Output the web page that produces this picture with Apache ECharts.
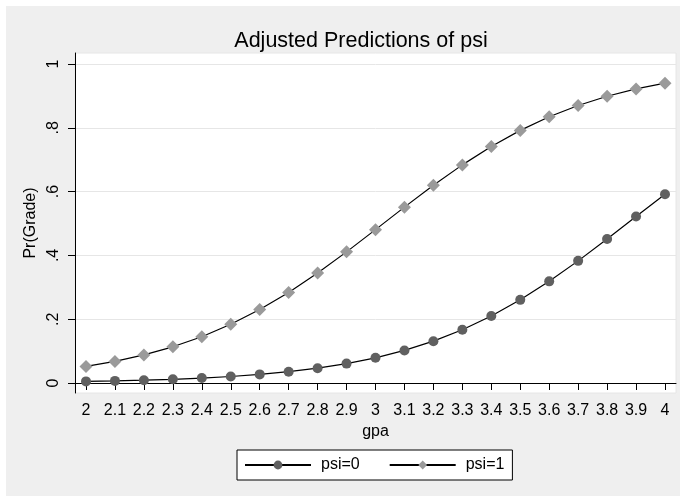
<!DOCTYPE html>
<html><head><meta charset="utf-8">
<script src="https://cdn.jsdelivr.net/npm/echarts@6/dist/echarts.min.js"></script>
<style>html,body{margin:0;padding:0;background:#fff}#c{width:684px;height:502px}</style>
</head><body><div id="c"></div>
<script>
const gpa = [2, 2.1, 2.2, 2.3, 2.4, 2.5, 2.6, 2.7, 2.8, 2.9, 3, 3.1, 3.2, 3.3, 3.4, 3.5, 3.6, 3.7, 3.8, 3.9, 4];
const psi0 = [0.0051, 0.0067, 0.0089, 0.0117, 0.0155, 0.0205, 0.0270, 0.0355, 0.0465, 0.0608, 0.0790, 0.1022, 0.1312, 0.1669, 0.2100, 0.2607, 0.3187, 0.3829, 0.4515, 0.5220, 0.5916];
const psi1 = [0.0520, 0.0678, 0.0880, 0.1135, 0.1452, 0.1840, 0.2302, 0.2840, 0.3448, 0.4111, 0.4808, 0.5513, 0.6197, 0.6838, 0.7414, 0.7919, 0.8347, 0.8700, 0.8988, 0.9218, 0.9399];
const xTickValues = [2, 2.1, 2.2, 2.3, 2.4, 2.5, 2.6, 2.7, 2.8, 2.9, 3, 3.1, 3.2, 3.3, 3.4, 3.5, 3.6, 3.7, 3.8, 3.9, 4];
const xTickLabels = ['2', '2.1', '2.2', '2.3', '2.4', '2.5', '2.6', '2.7', '2.8', '2.9', '3', '3.1', '3.2', '3.3', '3.4', '3.5', '3.6', '3.7', '3.8', '3.9', '4'];
const yTickValues = [0, 0.2, 0.4, 0.6, 0.8, 1];
const yTickLabels = ['0', '.2', '.4', '.6', '.8', '1'];
const seriesNames = ['psi=0', 'psi=1'];

function labelFor(values, labels) {
  return function (v) {
    for (let i = 0; i < values.length; i++) {
      if (Math.abs(values[i] - v) < 1e-6) return labels[i];
    }
    return '';
  };
}

const chart = echarts.init(document.getElementById('c'), null, {renderer: 'canvas'});
const font = 'Liberation Sans, Arial, sans-serif';
chart.setOption({
  animation: false,
  backgroundColor: '#ffffff',
  textStyle: {fontFamily: font},
  graphic: [{
    type: 'rect', z: -100, silent: true,
    shape: {x: 6, y: 6, width: 674, height: 490},
    style: {fill: '#efefef'}
  }],
  title: {
    text: 'Adjusted Predictions of psi',
    left: 356, top: 25, textAlign: 'center',
    textStyle: {fontFamily: font, fontSize: 21.5, fontWeight: 'normal', color: '#000'}
  },
  legend: {
    data: seriesNames,
    left: 237, top: 450,
    orient: 'horizontal',
    padding: [7, 8, 7, 7],
    borderColor: '#000', borderWidth: 1, borderRadius: 0,
    backgroundColor: '#fff',
    itemWidth: 66, itemHeight: 11, itemGap: 29,
    textStyle: {fontFamily: font, fontSize: 16, color: '#000', padding: [0, 0, 0, 5]}
  },
  grid: {
    left: 75, top: 53, width: 601, height: 340,
    show: true, backgroundColor: '#fff', borderColor: '#e6e6e6', borderWidth: 1
  },
  xAxis: {
    type: 'value', min: 1.962, max: 4.038,
    name: 'gpa', nameLocation: 'middle', nameGap: 23,
    nameTextStyle: {fontFamily: font, fontSize: 16, color: '#000'},
    axisLine: {show: true, lineStyle: {color: '#000', width: 1}},
    axisTick: {show: true, length: 7, customValues: xTickValues, lineStyle: {color: '#000'}},
    axisLabel: {customValues: xTickValues, formatter: labelFor(xTickValues, xTickLabels), margin: 10, fontSize: 16, color: '#000', fontFamily: font, showMinLabel: true, showMaxLabel: true},
    splitLine: {show: false}
  },
  yAxis: {
    type: 'value', min: -0.0313, max: 1.0345,
    name: 'Pr(Grade)', nameLocation: 'middle', nameGap: 30,
    nameTextStyle: {fontFamily: font, fontSize: 16, color: '#000'},
    axisLine: {show: true, lineStyle: {color: '#000', width: 1}},
    axisTick: {show: true, length: 7, customValues: yTickValues, lineStyle: {color: '#000'}},
    axisLabel: {customValues: yTickValues, formatter: labelFor(yTickValues, yTickLabels), rotate: 90, margin: 13, fontSize: 16, color: '#000', fontFamily: font},
    splitLine: {show: true, lineStyle: {color: '#e6e6e6', width: 1}}
  },
  series: [
    {
      name: seriesNames[0], type: 'line',
      data: gpa.map((g, i) => [g, psi0[i]]),
      symbol: 'circle', symbolSize: 10,
      itemStyle: {color: '#606060'},
      lineStyle: {color: '#000', width: 1.2}
    },
    {
      name: seriesNames[1], type: 'line',
      data: gpa.map((g, i) => [g, psi1[i]]),
      symbol: 'diamond', symbolSize: 13,
      itemStyle: {color: '#9a9a9a'},
      lineStyle: {color: '#000', width: 1.2}
    }
  ]
});
</script>
</body></html>
